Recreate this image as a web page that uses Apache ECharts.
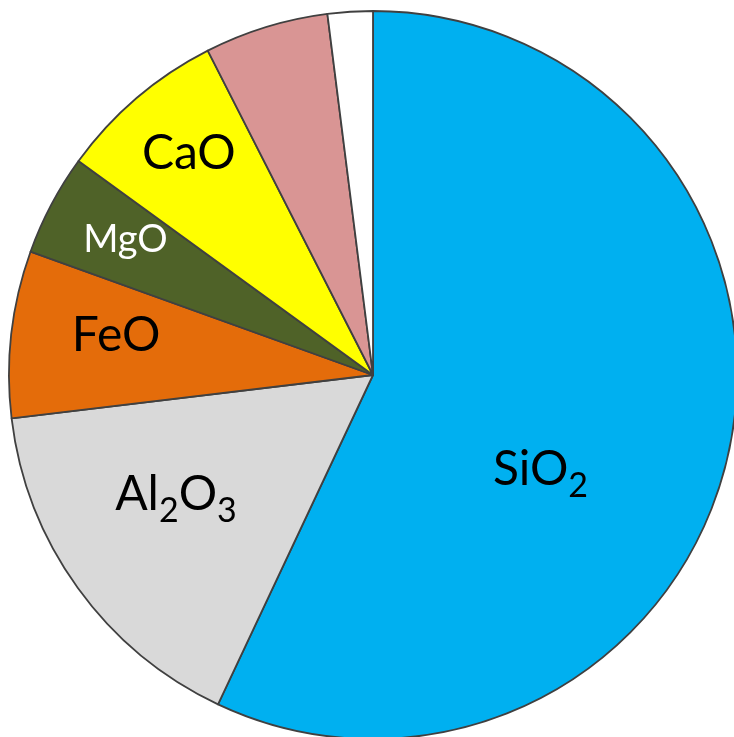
<!DOCTYPE html>
<html>
<head>
<meta charset="utf-8">
<script src="https://cdn.jsdelivr.net/npm/echarts@6/dist/echarts.min.js"></script>
<style>
html,body{margin:0;padding:0;background:#fff;}
#chart{width:734px;height:737px;}
</style>
</head>
<body>
<div id="chart"></div>
<script>
// Data
var names = ['SiO2', 'Al2O3', 'FeO', 'MgO', 'CaO', 'Na2O+K2O', 'Other'];
var values = [57.0, 16.1, 7.4, 4.5, 7.5, 5.5, 2.0];
// Label text (rich-text, subscripts)
var labelTexts = ['{n|SiO}{s|2}', '{n|Al}{s|2}{n|O}{s|3}', '{n|FeO}', '{m|MgO}', '{n|CaO}', '', ''];
// Styling
var colors = ['#00B0F0', '#D9D9D9', '#E46C0A', '#4F6228', '#FFFF00', '#D99594', '#FFFFFF'];
var labelOffsets = [[-13, 54], [-47, 11], [-73, -19], [-84, -49], [-64, -81], [0, 0], [0, 0]];

var chart = echarts.init(document.getElementById('chart'), null, {renderer: 'canvas'});
var fontFam = 'Lato, "Open Sans", sans-serif';
var data = names.map(function (n, i) {
  return {
    name: n,
    value: values[i],
    itemStyle: {color: colors[i]},
    label: {
      show: labelTexts[i] !== '',
      formatter: labelTexts[i],
      offset: labelOffsets[i]
    }
  };
});
chart.setOption({
  animation: false,
  series: [{
    type: 'pie',
    center: [373, 375],
    radius: 364,
    startAngle: 90,
    clockwise: true,
    avoidLabelOverlap: false,
    itemStyle: {borderColor: '#404040', borderWidth: 1.8},
    emphasis: {disabled: true},
    labelLine: {show: false},
    label: {
      position: 'inside',
      fontFamily: fontFam,
      rich: {
        n: {fontFamily: fontFam, fontSize: 48, color: '#000', lineHeight: 60},
        s: {fontFamily: fontFam, fontSize: 34, color: '#000', padding: [34, 0, 0, 0], lineHeight: 40},
        m: {fontFamily: fontFam, fontSize: 38, color: '#fff', lineHeight: 44}
      }
    },
    data: data
  }]
});
</script>
</body>
</html>
